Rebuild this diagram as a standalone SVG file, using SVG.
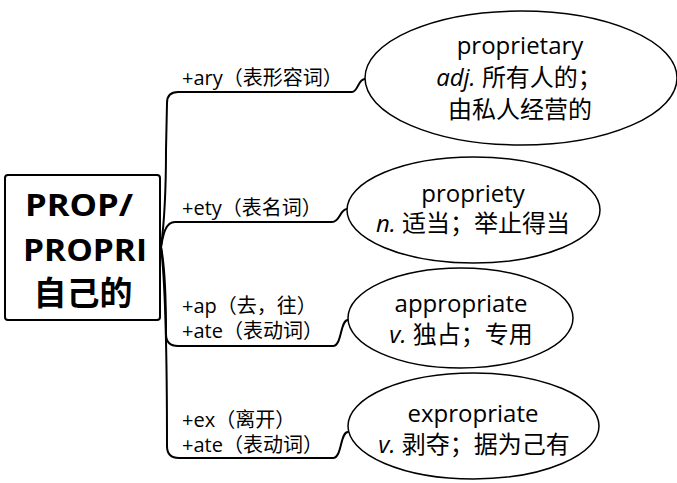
<svg xmlns="http://www.w3.org/2000/svg" width="677" height="483" viewBox="0 0 677 483">
<style>
.bg{fill:#fff}
.box{fill:#fff;stroke:#000;stroke-width:2}
.ell{fill:#fff;stroke:#000;stroke-width:1.5}
.con{fill:none;stroke:#000;stroke-width:2;stroke-linecap:round}
.t{font-family:"Open Sans","Noto Sans CJK SC",sans-serif;fill:#000}
.big{font-size:31px;font-weight:bold}
.bigc{font-size:33px;font-weight:bold}
.lbl{font-size:20px}
.def{font-size:24px;text-anchor:middle}
.it{font-style:italic}
</style>
<rect class="bg" x="0" y="0" width="677" height="483"/>
<g id="connectors">
<path class="con" d="M161,247 C163,232 166,200 166,150 L167,103 Q167,92 178,92 L352,92 C358,92 358,79 365,79"/>
<path class="con" d="M161,247 C163,236 165,222 175,222 L332,222 C340,222 340,209 347,209"/>
<path class="con" d="M161,247 C164,262 166,292 166,334 Q166,346 178,346 L333,346 C342,346 340,320 348,320"/>
<path class="con" d="M161,247 C164,272 167,330 167,446 Q167,458 179,458 L333,458 C342,458 340,432 348,432"/>
</g>
<g id="root">
<rect class="box" x="5" y="175" width="155" height="145" rx="3"/>
<text class="t big" x="25" y="216" textLength="108" lengthAdjust="spacingAndGlyphs">PROP/</text>
<text class="t big" x="23" y="261" textLength="124" lengthAdjust="spacingAndGlyphs">PROPRI</text>
<text class="t bigc" x="83" y="305" text-anchor="middle">自己的</text>
</g>
<g id="label-ary">
<text class="t lbl" x="182" y="85">+ary（表形容词）</text>
</g>
<g id="label-ety">
<text class="t lbl" x="182" y="215">+ety（表名词）</text>
</g>
<g id="label-ap">
<text class="t lbl" x="182" y="313">+ap（去，往）</text>
<text class="t lbl" x="182" y="338">+ate（表动词）</text>
</g>
<g id="label-ex">
<text class="t lbl" x="182" y="427">+ex（离开）</text>
<text class="t lbl" x="182" y="452">+ate（表动词）</text>
</g>
<g id="node-proprietary">
<ellipse class="ell" cx="521" cy="78" rx="156" ry="67"/>
<text class="t def" x="520" y="54">proprietary</text>
<text class="t def" x="519" y="86"><tspan class="it">adj.</tspan> 所有人的；</text>
<text class="t def" x="520" y="118">由私人经营的</text>
</g>
<g id="node-propriety">
<ellipse class="ell" cx="473.5" cy="210" rx="126.5" ry="53"/>
<text class="t def" x="473" y="202">propriety</text>
<text class="t def" x="473" y="232"><tspan class="it">n.</tspan> 适当；举止得当</text>
</g>
<g id="node-appropriate">
<ellipse class="ell" cx="460.5" cy="318" rx="112.5" ry="50"/>
<text class="t def" x="461" y="312">appropriate</text>
<text class="t def" x="461" y="343"><tspan class="it">v.</tspan> 独占；专用</text>
</g>
<g id="node-expropriate">
<ellipse class="ell" cx="473.5" cy="426" rx="125.5" ry="53"/>
<text class="t def" x="473" y="422">expropriate</text>
<text class="t def" x="474" y="453"><tspan class="it">v.</tspan> 剥夺；据为己有</text>
</g>
</svg>
